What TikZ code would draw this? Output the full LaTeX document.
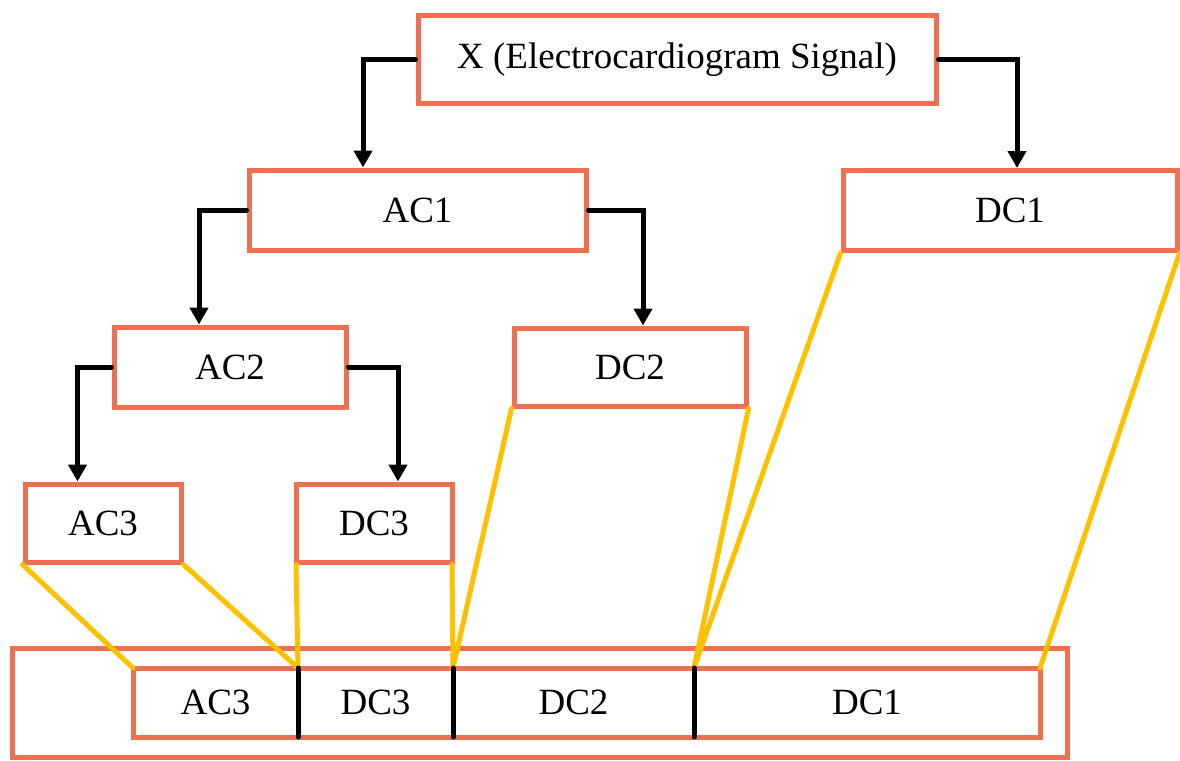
\documentclass[tikz,border=0pt]{standalone}
\usepackage{fontspec}
\setmainfont{Liberation Serif}
\usetikzlibrary{arrows.meta}
\definecolor{boxorange}{RGB}{238,112,80}
\definecolor{linkyellow}{RGB}{255,192,0}
\tikzset{
  coef/.style={draw=boxorange, line width=5pt, rectangle, inner sep=0pt,
    font=\fontsize{37}{44}\selectfont},
  part/.style={rectangle, inner sep=0pt, outer sep=0pt, minimum height=69pt,
    font=\fontsize{37}{44}\selectfont},
  split/.style={-{Triangle[length=17pt,width=18pt]}, line width=5pt, line cap=round},
  link/.style={linkyellow, line width=5pt, line cap=round},
}
\begin{document}
\begin{tikzpicture}[x=1pt,y=-1pt]
    \useasboundingbox (0,0) rectangle (1180,760);

    % decomposition tree
    \node[coef, minimum width=518pt, minimum height=87pt] (x) at (677,59.5) {X (Electrocardiogram Signal)};
    \node[coef, minimum width=337pt, minimum height=80pt] (ac1) at (417.5,210) {AC1};
    \node[coef, minimum width=334pt, minimum height=80pt] (dc1) at (1010,210.5) {DC1};
    \node[coef, minimum width=232pt, minimum height=80pt] (ac2) at (230,367) {AC2};
    \node[coef, minimum width=232pt, minimum height=78pt] (dc2) at (630,367) {DC2};
    \node[coef, minimum width=156pt, minimum height=78pt] (ac3) at (103,523) {AC3};
    \node[coef, minimum width=156pt, minimum height=78pt] (dc3) at (374,523) {DC3};

    % splitting arrows
    \draw[split] (x.west) -| ([xshift=-54.5pt]ac1.north);
    \draw[split] (x.east) -| ([xshift=7pt]dc1.north);
    \draw[split] (ac1.west) -| ([xshift=-31pt]ac2.north);
    \draw[split] (ac1.east) -| ([xshift=13pt]dc2.north);
    \draw[split] (ac2.west) -| ([xshift=-25.5pt]ac3.north);
    \draw[split] (ac2.east) -| ([xshift=24pt]dc3.north);

    % coefficient vector
    \node[coef, minimum width=1055pt, minimum height=109pt] (frame) at (539.5,702.5) {};
    \node[part, minimum width=165pt] (sac3) at (215.5,702.5) {AC3};
    \node[part, minimum width=155pt] (sdc3) at (375.5,702.5) {DC3};
    \node[part, minimum width=241pt] (sdc2) at (573.5,702.5) {DC2};
    \node[part, minimum width=346pt] (sdc1) at (867,702.5) {DC1};
    \draw[boxorange, line width=5pt] (sac3.north west) rectangle (sdc1.south east);

    % yellow links
    \draw[link] (ac3.south west) -- (sac3.north west);
    \draw[link] (ac3.south east) -- (sac3.north east);
    \draw[link] ([xshift=2.5pt]dc3.south west) -- (sdc3.north west);
    \draw[link] ([xshift=-2.5pt]dc3.south east) -- (sdc3.north east);
    \draw[link] (dc2.south west) -- (sdc2.north west);
    \draw[link] (dc2.south east) -- (sdc2.north east);
    \draw[link] (dc1.south west) -- (sdc1.north west);
    \draw[link] (dc1.south east) -- (sdc1.north east);

    % dividers
    \draw[line width=5pt, line cap=round] (sac3.north east) -- (sac3.south east);
    \draw[line width=5pt, line cap=round] (sdc3.north east) -- (sdc3.south east);
    \draw[line width=5pt, line cap=round] (sdc2.north east) -- (sdc2.south east);
\end{tikzpicture}
\end{document}
